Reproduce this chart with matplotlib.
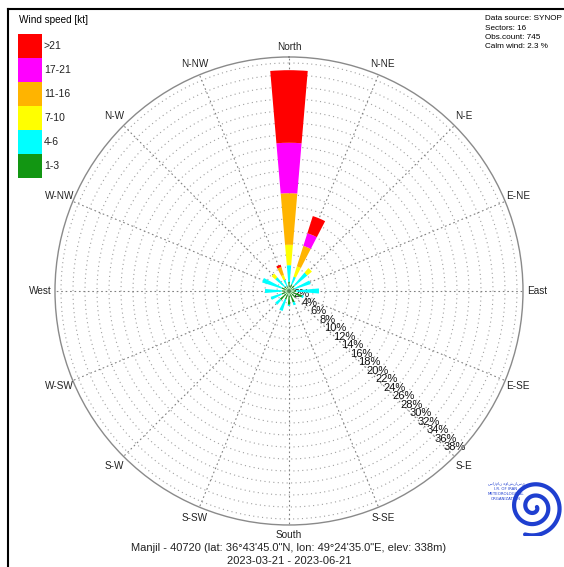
import numpy as np
import matplotlib
matplotlib.use("Agg")
import matplotlib.pyplot as plt
from matplotlib.lines import Line2D

plt.rcParams['font.family'] = ['Liberation Sans', 'DejaVu Sans']

# Sector names, clockwise from North
directions = ["North", "N-NE", "N-E", "E-NE", "East", "E-SE", "S-E", "S-SE",
              "South", "S-SW", "S-W", "W-SW", "West", "W-NW", "N-W", "N-NW"]

# Frequency (%) per sector for each speed band
speed_bands = ["1-3", "4-6", "7-10", "11-16", "17-21", ">21"]
band_colors = ["#129612", "#00ffff", "#ffff00", "#ffb400", "#ff00ff", "#ff0000"]

freq_1_3   = [1.5, 1.2, 1.2, 1.0, 1.2, 2.3, 1.5, 2.0, 2.3, 1.5, 2.0, 1.3, 1.2, 1.3, 1.0, 0.8]
freq_4_6   = [2.8, 1.3, 2.8, 2.8, 3.8, 0.3, 0.0, 0.5, 0.2, 2.0, 1.0, 1.9, 2.8, 3.4, 2.0, 1.2]
freq_7_10  = [3.4, 1.8, 1.0, 0.0, 0.0, 0.0, 0.0, 0.0, 0.0, 0.0, 0.0, 0.0, 0.0, 0.0, 0.8, 0.8]
freq_11_16 = [8.6, 3.6, 0.0, 0.0, 0.0, 0.0, 0.0, 0.0, 0.0, 0.0, 0.0, 0.0, 0.0, 0.0, 0.0, 1.4]
freq_17_21 = [8.4, 2.2, 0.0, 0.0, 0.0, 0.0, 0.0, 0.0, 0.0, 0.0, 0.0, 0.0, 0.0, 0.0, 0.0, 0.0]
freq_gt_21 = [12.1, 3.0, 0.0, 0.0, 0.0, 0.0, 0.0, 0.0, 0.0, 0.0, 0.0, 0.0, 0.0, 0.0, 0.0, 0.4]

radial_ticks = list(range(2, 40, 2))
r_max = 39

info_lines = ["Data source: SYNOP", "Sectors: 16", "Obs.count: 745", "Calm wind: 2.3 %"]
station_line = "Manjil - 40720 (lat: 36\u00b043'45.0\"N, lon: 49\u00b024'35.0\"E, elev: 338m)"
period_line = "2023-03-21 - 2023-06-21"

fig = plt.figure(figsize=(5.64, 5.67), dpi=100)
fig.patch.set_facecolor("white")

ax = fig.add_axes([0.0975, 0.0741, 0.8298, 0.8254], projection="polar")
ax.set_theta_zero_location("N")
ax.set_theta_direction(-1)
ax.set_ylim(0, r_max)
ax.set_xticks([])
ax.set_yticks([])
ax.grid(False)
ax.spines["polar"].set_color("#8a8a8a")
ax.spines["polar"].set_linewidth(1.0)

theta = np.deg2rad(np.arange(16) * 22.5)
full = np.linspace(0, 2 * np.pi, 400)

# dotted range rings and sector spokes
for r in radial_ticks:
    ax.plot(full, np.full_like(full, r), ls=(0, (1, 3)), color="#a0a0a0", lw=0.8, zorder=1)
for t in theta:
    ax.plot([t, t], [0, r_max], ls=(0, (1.5, 2.5)), color="#808080", lw=0.8, zorder=1)

# percentage labels along the S-E spoke
for r in radial_ticks:
    ax.annotate(f"{r}%", xy=(np.deg2rad(135), r), xytext=(3, 0), textcoords="offset points",
                fontsize=8, ha="center", va="bottom", color="#111111", zorder=2)

# stacked speed-band wedges
bands = [freq_1_3, freq_4_6, freq_7_10, freq_11_16, freq_17_21, freq_gt_21]
bottom = np.zeros(16)
for vals, col in zip(bands, band_colors):
    vals = np.asarray(vals)
    ax.bar(theta, vals, width=0.17, bottom=bottom, color=col, edgecolor="none", zorder=3)
    bottom += vals

# compass labels outside the ring (pushed out a bit where the text runs horizontally)
for t, name in zip(theta, directions):
    r_lab = 40.6 + 0.8 * abs(np.sin(t))
    ax.text(t, r_lab, name, fontsize=6.8 if len(name) > 5 else 7.2,
            ha="center", va="center", clip_on=False, color="#222222")

# legend of speed bands
fig.text(19 / 564, 1 - 20 / 567, "Wind speed [kt]", fontsize=7.2, va="center", ha="left")
patch_h = 24
for i, (lab, col) in enumerate(zip(reversed(speed_bands), reversed(band_colors))):
    y_top = 34 + i * patch_h
    fig.add_artist(plt.Rectangle((18 / 564, 1 - (y_top + patch_h) / 567), 24 / 564, patch_h / 567,
                                 transform=fig.transFigure, color=col, lw=0))
    fig.text(44 / 564, 1 - (y_top + 12) / 567, lab, fontsize=7.5, va="center", ha="left",
             color="#222222")

# station info block
for i, line in enumerate(info_lines):
    fig.text(485 / 564, 1 - (19 + i * 9.3) / 567, line, fontsize=5.9, va="center", ha="left")

fig.text(289 / 564, 1 - 548 / 567, station_line, fontsize=8, ha="center", va="center", color="#222222")
fig.text(289 / 564, 1 - 561 / 567, period_line, fontsize=8, ha="center", va="center", color="#222222")

# outer frame
fig.add_artist(Line2D([8 / 564, 1], [1 - 9 / 567, 1 - 9 / 567], color="black", lw=1.5,
                      transform=fig.transFigure))
fig.add_artist(Line2D([8 / 564, 8 / 564], [0, 1 - 9 / 567], color="black", lw=1.5,
                      transform=fig.transFigure))

# organisation logo: blue spiral with caption
lax = fig.add_axes([505 / 564, 1 - 537 / 567, 58 / 564, 60 / 567])
lax.set_aspect("equal")
lax.axis("off")
s = np.linspace(0, 4.6 * np.pi, 500)
rad = 0.1 + 0.062 * s
lax.plot(rad * np.cos(-s), rad * np.sin(-s), color="#1f3fd0", lw=3.0, solid_capstyle="round")
lax.set_xlim(-1.0, 1.0)
lax.set_ylim(-1.0, 1.0)
for i, line in enumerate(["\u0633\u0627\u0632\u0645\u0627\u0646 \u0647\u0648\u0627\u0634\u0646\u0627\u0633\u06cc",
                          "I.R. OF IRAN", "METEOROLOGICAL", "ORGANIZATION"]):
    fig.text(506 / 564, 1 - (484 + i * 5) / 567, line, fontsize=2.8, color="#1f3fd0",
             ha="center", va="center", family=["DejaVu Sans"])

fig.savefig("out.png", dpi=100, facecolor="white")
